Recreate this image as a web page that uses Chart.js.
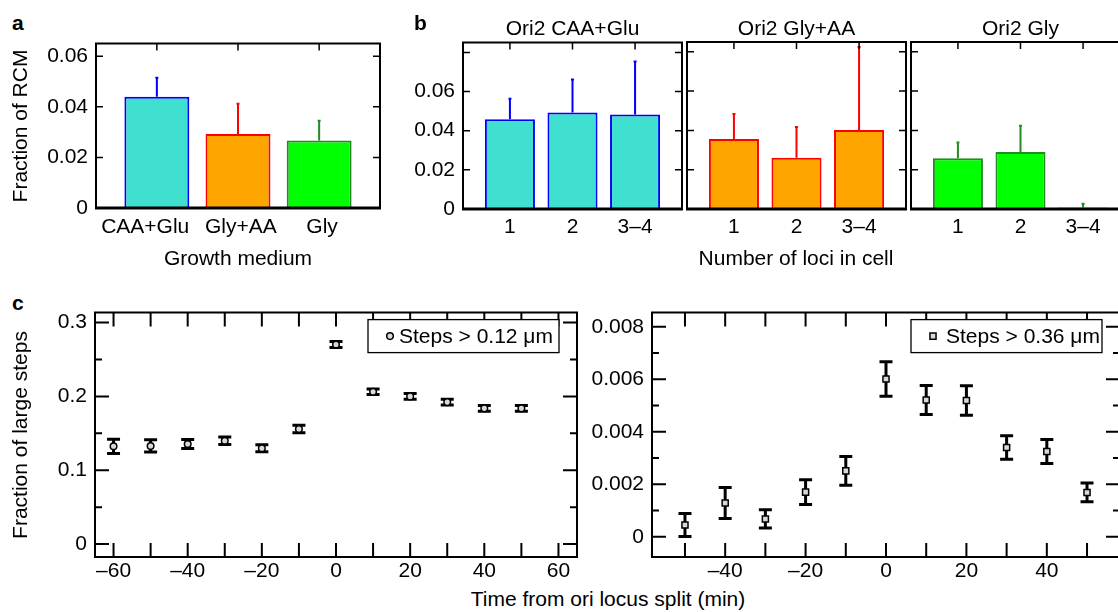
<!DOCTYPE html>
<html>
<head>
<meta charset="utf-8">
<script src="https://cdn.jsdelivr.net/npm/chart.js@4.4.0/dist/chart.umd.min.js"></script>
<style>
  html, body { margin: 0; padding: 0; width: 1118px; height: 612px; overflow: hidden; background: #fff; }
  canvas { position: absolute; }
  .t { position: absolute; font-family: 'Liberation Sans', Arial, Helvetica, sans-serif; font-size: 21px;
       line-height: 21px; white-space: nowrap; color: #000; }
  .b { font-weight: bold; }
</style>
</head>
<body>
<script>
// ---- a: fraction of RCM per growth medium ----
const mediumLabels = ['CAA+Glu', 'Gly+AA', 'Gly'];
const rcmFraction = [0.0440, 0.0293, 0.0267];
const rcmError = [0.0075, 0.0119, 0.0078];
const rcmTickValues = [0, 0.02, 0.04, 0.06];
const rcmTickLabels = ['0', '0.02', '0.04', '0.06'];

// ---- b: fraction of RCM by number of loci ----
const lociLabels = ['1', '2', '3\u20134'];
const lociCAAGlu = [0.0458, 0.0493, 0.0483];
const lociCAAGluErr = [0.0105, 0.0168, 0.0271];
const lociGlyAA = [0.0356, 0.0261, 0.0402];
const lociGlyAAErr = [0.0127, 0.0156, 0.0422];
const lociGly = [0.0258, 0.0290, 0.0007];
const lociGlyErr = [0.0080, 0.0134, 0.0020];
const lociTickValues = [0, 0.02, 0.04, 0.06];
const lociTickLabels = ['0', '0.02', '0.04', '0.06'];

// ---- c: fraction of large steps vs time from ori split ----
const timeSmall = [-60, -50, -40, -30, -20, -10, 0, 10, 20, 30, 40, 50];
const stepsSmall = [0.1324, 0.1329, 0.1356, 0.1400, 0.1297, 0.1558, 0.2703, 0.2063, 0.2000, 0.1923, 0.1838, 0.1838];
const stepsSmallErr = [0.0097, 0.0083, 0.0060, 0.0050, 0.0048, 0.0050, 0.0040, 0.0038, 0.0038, 0.0038, 0.0038, 0.0038];
const timeLarge = [-50, -40, -30, -20, -10, 0, 10, 20, 30, 40, 50];
const stepsLarge = [0.00045, 0.00129, 0.00068, 0.00170, 0.00251, 0.00601, 0.00521, 0.00519, 0.00340, 0.00325, 0.00169];
const stepsLargeErr = [0.00044, 0.00059, 0.00035, 0.00047, 0.00055, 0.00066, 0.00055, 0.00056, 0.00045, 0.00046, 0.00036];
const smallTickValues = [0, 0.1, 0.2, 0.3];
const smallTickLabels = ['0', '0.1', '0.2', '0.3'];
const largeTickValues = [0, 0.002, 0.004, 0.006, 0.008];
const largeTickLabels = ['0', '0.002', '0.004', '0.006', '0.008'];

// medium colours: fill and edge
const fills = ['#40E0D0', '#FFA500', '#00FF00'];
const edges = ['#0000FF', '#FF0000', '#228B22'];

const FONT = "'Liberation Sans', Arial, Helvetica, sans-serif";
Chart.defaults.font.family = FONT;
Chart.defaults.font.size = 21;
Chart.defaults.color = '#000';

const PT = 20, PR = 6;

function makeCanvas(L, T, R, B, Wy, Hx) {
  const c = document.createElement('canvas');
  const w = Math.round(R + PR - (L - Wy));
  const h = Math.round(B + Hx - (T - PT));
  c.width = w; c.height = h;
  c.style.left = (L - Wy) + 'px';
  c.style.top = (T - PT) + 'px';
  c.style.width = w + 'px';
  c.style.height = h + 'px';
  document.body.appendChild(c);
  return c;
}

function text(str, x, baseline, opts = {}) {
  const d = document.createElement('div');
  d.className = 't' + (opts.bold ? ' b' : '');
  d.textContent = str;
  if (opts.rotate) {
    d.style.left = (x - 17.8) + 'px';
    d.style.top = baseline + 'px';
    d.style.transformOrigin = '0 0';
    d.style.transform = 'rotate(-90deg) translateX(-50%)';
  } else {
    d.style.left = x + 'px';
    d.style.top = (baseline - 17.8) + 'px';
    if (opts.center) d.style.transform = 'translateX(-50%)';
  }
  document.body.appendChild(d);
}

function labelFor(values, labels) {
  return (v) => {
    const i = values.findIndex(t => Math.abs(t - v) < 1e-9);
    return i < 0 ? '' : labels[i];
  };
}

function dashNum(v) { return v < 0 ? '\u2013' + Math.abs(v) : String(v); }

// frame with inward ticks on all four sides
function framePlugin(f) {
  return {
    id: 'frame',
    afterDatasetsDraw(chart) {
      const { ctx, chartArea: a, scales: { x, y } } = chart;
      ctx.save();
      ctx.strokeStyle = '#000';
      ctx.lineCap = 'butt';
      ctx.lineWidth = f.tickWidth;
      ctx.beginPath();
      const yTicks = (vals, len) => vals.forEach(v => {
        const p = y.getPixelForValue(v);
        ctx.moveTo(a.left, p); ctx.lineTo(a.left + len, p);
        ctx.moveTo(a.right, p); ctx.lineTo(a.right - len, p);
      });
      yTicks(f.yMajor, f.majorLen);
      yTicks(f.yMinor || [], f.minorLen);
      (f.xTop || []).forEach(v => {
        const p = x.getPixelForValue(v);
        ctx.moveTo(p, a.top); ctx.lineTo(p, a.top + f.xLen);
      });
      (f.xBottom || []).forEach(v => {
        const p = x.getPixelForValue(v);
        ctx.moveTo(p, a.bottom); ctx.lineTo(p, a.bottom - f.xLen);
      });
      ctx.stroke();
      ctx.lineWidth = f.frameWidth;
      ctx.lineJoin = 'miter';
      ctx.beginPath();
      ctx.moveTo(a.left, a.bottom);
      ctx.lineTo(a.left, a.top);
      ctx.lineTo(a.right, a.top);
      ctx.lineTo(a.right, a.bottom);
      ctx.stroke();
      ctx.lineWidth = f.baseWidth;
      ctx.beginPath();
      ctx.moveTo(a.left - f.frameWidth / 2, a.bottom);
      ctx.lineTo(a.right + f.frameWidth / 2, a.bottom);
      ctx.stroke();
      ctx.restore();
    }
  };
}

// error bars read from dataset.errors
function errorPlugin(phase, capHalf, width) {
  const draw = (chart) => {
    const { ctx, scales: { y } } = chart;
    ctx.save();
    ctx.lineWidth = width;
    ctx.lineCap = 'butt';
    chart.data.datasets.forEach((ds, i) => {
      if (!ds.errors) return;
      const meta = chart.getDatasetMeta(i);
      meta.data.forEach((el, j) => {
        const v = ds.data[j].y, e = ds.errors[j];
        const top = y.getPixelForValue(v + e);
        const bot = y.getPixelForValue(ds.upOnly ? v : v - e);
        ctx.strokeStyle = Array.isArray(ds.errorColor) ? ds.errorColor[j] : ds.errorColor;
        ctx.beginPath();
        ctx.moveTo(el.x, bot); ctx.lineTo(el.x, top);
        ctx.moveTo(el.x - capHalf, top); ctx.lineTo(el.x + capHalf, top);
        if (!ds.upOnly) { ctx.moveTo(el.x - capHalf, bot); ctx.lineTo(el.x + capHalf, bot); }
        ctx.stroke();
      });
    });
    ctx.restore();
  };
  return phase === 'before'
    ? { id: 'errbars', beforeDatasetsDraw: draw }
    : { id: 'errbars', afterDatasetsDraw: draw };
}

// boxed key in the top-right corner of the plot
function keyPlugin(boxW, markerOff, textOff) {
  return {
    id: 'keybox',
    afterDraw(chart) {
      const { ctx, chartArea: a } = chart;
      const ds = chart.data.datasets[0];
      const bx = a.right - 18 - boxW, by = a.top + 7, bh = 33;
      ctx.save();
      ctx.fillStyle = '#fff';
      ctx.fillRect(bx, by, boxW, bh);
      ctx.strokeStyle = '#000';
      ctx.lineWidth = 1.3;
      ctx.strokeRect(bx, by, boxW, bh);
      const mx = bx + markerOff, my = by + bh / 2;
      ctx.fillStyle = ds.pointBackgroundColor;
      ctx.lineWidth = ds.pointBorderWidth;
      ctx.beginPath();
      if (ds.pointStyle === 'rect') {
        const s = ds.pointRadius * Math.SQRT1_2;
        ctx.rect(mx - s, my - s, 2 * s, 2 * s);
      } else {
        ctx.arc(mx, my, ds.pointRadius, 0, Math.PI * 2);
      }
      ctx.fill(); ctx.stroke();
      ctx.fillStyle = '#000';
      ctx.font = '21px ' + FONT;
      ctx.textBaseline = 'alphabetic';
      ctx.fillText(ds.label, bx + textOff, by + 23);
      ctx.restore();
    }
  };
}

function xAxis(min, max, vals, cb, pad, Hx) {
  return {
    type: 'linear', min, max, offset: false,
    afterBuildTicks: s => { s.ticks = vals.map(v => ({ value: v })); },
    afterFit: s => { s.height = Hx; },
    ticks: { callback: cb, padding: pad, autoSkip: false, maxRotation: 0, minRotation: 0 },
    grid: { display: false, drawTicks: false },
    border: { display: false }
  };
}

function yAxis(min, max, vals, labels, Wy, show) {
  return {
    type: 'linear', min, max,
    afterBuildTicks: s => { s.ticks = vals.map(v => ({ value: v })); },
    afterFit: s => { s.width = Wy; },
    ticks: { display: show, callback: labelFor(vals, labels), padding: 8, autoSkip: false },
    grid: { display: false, drawTicks: false },
    border: { display: false }
  };
}

function barChart(L, T, R, B, Wy, values, errors, fillC, edgeC, xLabelFn, yMax, yVals, yLabels, showY, xPad, yFrameTicks) {
  const Hx = 40;
  const c = makeCanvas(L, T, R, B, Wy, Hx);
  return new Chart(c, {
    type: 'bar',
    data: {
      datasets: [{
        data: values.map((y, i) => ({ x: i + 1, y })),
        errors: errors,
        upOnly: true,
        errorColor: edgeC,
        backgroundColor: fillC,
        borderColor: edgeC,
        borderWidth: 2,
        barPercentage: 0.8,
        categoryPercentage: 1.0
      }]
    },
    options: {
      responsive: false, animation: false, devicePixelRatio: 1,
      layout: { padding: { top: PT, right: PR, left: 0, bottom: 0 } },
      plugins: { legend: { display: false }, tooltip: { enabled: false } },
      scales: {
        x: xAxis(0.25, 3.75, [1, 2, 3], xLabelFn, xPad, Hx),
        y: yAxis(0, yMax, yVals, yLabels, Wy, showY)
      }
    },
    plugins: [
      errorPlugin('after', 1.5, 2),
      framePlugin({ yMajor: yFrameTicks, majorLen: 7, xTop: [1, 2, 3], xLen: 7,
                    tickWidth: 1.5, frameWidth: 2, baseWidth: 3 })
    ]
  });
}

// panel a: medium names sit a little off their bar centres (set with spacing)
const mediumLabelText = ['CAA+Glu    ', ' Gly+AA', ' Gly'];
barChart(96, 43, 380, 208, 70, rcmFraction, rcmError, fills, edges,
         v => mediumLabelText[Math.round(v) - 1],
         0.065, rcmTickValues, rcmTickLabels, true, 7, [0.02, 0.04, 0.06]);

// panel b
const lociFrame = [0.02, 0.04, 0.06, 0.08];
const lociLabelFn = v => lociLabels[Math.round(v) - 1];
barChart(463, 42, 682, 209, 60, lociCAAGlu, lociCAAGluErr, fills[0], edges[0], lociLabelFn,
         0.085, lociTickValues, lociTickLabels, true, 6, lociFrame);
barChart(687, 42, 906, 209, 2, lociGlyAA, lociGlyAAErr, fills[1], edges[1], lociLabelFn,
         0.085, lociTickValues, lociTickLabels, false, 6, lociFrame);
barChart(911, 42, 1130, 209, 2, lociGly, lociGlyErr, fills[2], edges[2], lociLabelFn,
         0.085, lociTickValues, lociTickLabels, false, 6, lociFrame);

// panel c
function stepsChart(L, T, R, B, xMin, xMax, xLabelVals, xFrame, times, vals, errs, label, style, radius,
                    yMin, yMax, yVals, yLabels, yMinor, textOff) {
  const Wy = 70, Hx = 30;
  const c = makeCanvas(L, T, R, B, Wy, Hx);
  return new Chart(c, {
    type: 'scatter',
    data: {
      datasets: [{
        label: label,
        data: times.map((t, i) => ({ x: t, y: vals[i] })),
        errors: errs,
        upOnly: false,
        errorColor: '#000',
        showLine: false,
        pointStyle: style,
        pointRadius: radius,
        pointBackgroundColor: '#d9d9d9',
        pointBorderColor: '#000',
        pointBorderWidth: 1.5
      }]
    },
    options: {
      responsive: false, animation: false, devicePixelRatio: 1,
      layout: { padding: { top: PT, right: PR, left: 0, bottom: 0 } },
      plugins: { legend: { display: false }, tooltip: { enabled: false } },
      scales: {
        x: xAxis(xMin, xMax, xLabelVals, dashNum, 1.5, Hx),
        y: yAxis(yMin, yMax, yVals, yLabels, Wy, true)
      }
    },
    plugins: [
      errorPlugin('before', 6.5, 3),
      framePlugin({ yMajor: yVals, yMinor: yMinor, majorLen: 14, minorLen: 7,
                    xTop: xFrame, xBottom: xFrame, xLen: 14,
                    tickWidth: 2, frameWidth: 2, baseWidth: 2 }),
      keyPlugin(191, 22, textOff)
    ]
  });
}

stepsChart(95, 312, 577, 557, -65, 65, [-60, -40, -20, 0, 20, 40, 60],
           [-60, -50, -40, -30, -20, -10, 0, 10, 20, 30, 40, 50, 60],
           timeSmall, stepsSmall, stepsSmallErr, 'Steps > 0.12 \u03bcm', 'circle', 3.3,
           -0.0175, 0.3135, smallTickValues, smallTickLabels, [0.05, 0.15, 0.25], 31);
stepsChart(652, 312, 1120, 557, -58.2, 58.2, [-40, -20, 0, 20, 40],
           [-50, -40, -30, -20, -10, 0, 10, 20, 30, 40, 50],
           timeLarge, stepsLarge, stepsLargeErr, 'Steps > 0.36 \u03bcm', 'rect', 4.3,
           -0.00077, 0.00854, largeTickValues, largeTickLabels, [0.001, 0.003, 0.005, 0.007], 35);

// panel letters and axis titles
text('a', 12, 30, { bold: true });
text('b', 414, 30, { bold: true });
text('c', 12, 310, { bold: true });
text('Fraction of RCM', 27, 125.5, { rotate: true });
text('Growth medium', 238, 265, { center: true });
text('Ori2 CAA+Glu', 572.5, 35, { center: true });
text('Ori2 Gly+AA', 796.5, 35, { center: true });
text('Ori2 Gly', 1020.5, 35, { center: true });
text('Number of loci in cell', 796, 265, { center: true });
text('Fraction of large steps', 27, 434.5, { rotate: true });
text('Time from ori locus split (min)', 608, 606, { center: true });
</script>
</body>
</html>
